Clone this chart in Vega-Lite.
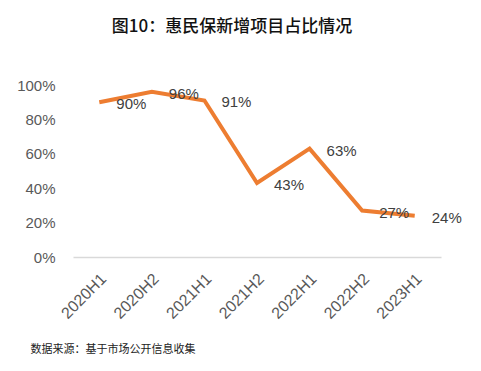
{
  "$schema": "https://vega.github.io/schema/vega-lite/v6.json",
  "autosize": "none",
  "width": 368,
  "height": 172,
  "padding": {"left": 73, "top": 85, "right": 40, "bottom": 114},
  "background": "white",
  "config": {"view": {"stroke": null}},
  "title": {
    "text": "图10：惠民保新增项目占比情况",
    "font": "Noto Sans CJK SC",
    "fontSize": 17,
    "fontWeight": 500,
    "color": "#111111",
    "anchor": "middle",
    "dx": -25,
    "offset": 42
  },
  "data": {
    "values": [
      {"period": "2020H1", "value": 0.90},
      {"period": "2020H2", "value": 0.96},
      {"period": "2021H1", "value": 0.91},
      {"period": "2021H2", "value": 0.43},
      {"period": "2022H1", "value": 0.63},
      {"period": "2022H2", "value": 0.27},
      {"period": "2023H1", "value": 0.24}
    ]
  },
  "encoding": {
    "x": {
      "field": "period",
      "type": "ordinal",
      "sort": null,
      "scale": {"paddingInner": 0, "paddingOuter": 0},
      "axis": {
        "title": "数据来源：基于市场公开信息收集",
        "titleFont": "Noto Sans CJK SC",
        "titleFontSize": 11,
        "titleFontWeight": "normal",
        "titleColor": "#222222",
        "titleAnchor": "start",
        "titleAlign": "left",
        "titleBaseline": "middle",
        "titleX": -43,
        "titleY": 92,
        "labelAngle": -45,
        "labelAlign": "right",
        "labelBaseline": "middle",
        "labelFont": "Liberation Sans",
        "labelFontSize": 16,
        "labelColor": "#595959",
        "labelPadding": 19,
        "labelOffset": 4,
        "ticks": false,
        "domainColor": "#d9d9d9",
        "domainWidth": 1.5
      }
    },
    "y": {
      "field": "value",
      "type": "quantitative",
      "scale": {"domain": [0, 1]},
      "axis": {
        "title": null,
        "values": [0, 0.2, 0.4, 0.6, 0.8, 1],
        "format": ".0%",
        "labelFont": "Liberation Sans",
        "labelFontSize": 15,
        "labelColor": "#595959",
        "labelPadding": 18,
        "ticks": false,
        "domain": false,
        "grid": false
      }
    }
  },
  "layer": [
    {
      "mark": {"type": "line", "color": "#ED7D31", "strokeWidth": 4, "strokeJoin": "miter", "strokeCap": "butt"}
    },
    {
      "mark": {"type": "text", "align": "left", "baseline": "middle", "dx": 17, "dy": 2, "font": "Liberation Sans", "fontSize": 15, "color": "#404040"},
      "encoding": {"text": {"field": "value", "type": "quantitative", "format": ".0%"}}
    }
  ]
}
